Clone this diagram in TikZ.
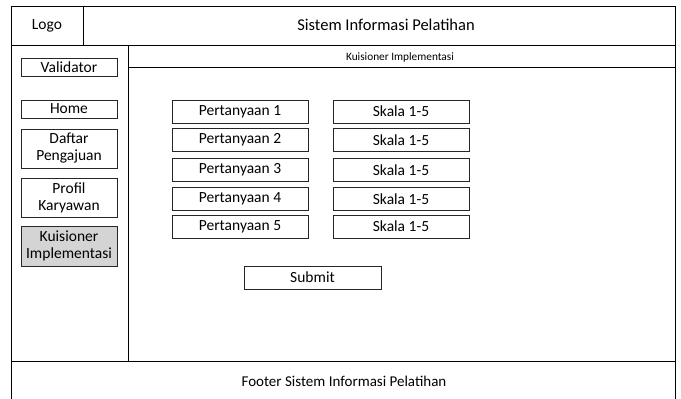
\documentclass[tikz,border=0pt]{standalone}
\usepackage{fontspec}
\setmainfont{Carlito}
\begin{document}
\begin{tikzpicture}[x=1pt,y=-1pt,
  frame/.style={draw=black, line width=0.9pt},
  btn/.style={draw=black!85, line width=0.8pt, fill=white, inner sep=0pt,
    align=center, font=\fontsize{15.5}{17}\selectfont},
  lbl/.style={inner sep=0pt, font=\fontsize{15.5}{17}\selectfont}]
\useasboundingbox (0,0) rectangle (681,399);
% outer frame, header, sidebar, footer
\draw[frame] (11,403) -- (11,6) -- (675,6) -- (675,403);
\draw[frame] (11,45) -- (675,45);
\draw[frame] (83,6) -- (83,45);
\draw[frame] (128,45) -- (128,361);
\draw[frame] (128,67) -- (675,67);
\draw[frame] (11,361) -- (675,361);
\node[lbl] (logo) at (47,26) {Logo};
\node[lbl, font=\fontsize{16.5}{18}\selectfont] (title) at (386,25) {Sistem Informasi Pelatihan};
\node[lbl, font=\fontsize{11.3}{13}\selectfont] (page) at (400,57) {Kuisioner Implementasi};
\node[lbl, font=\fontsize{15}{17}\selectfont] (footer) at (344,381) {Footer Sistem Informasi Pelatihan};
% sidebar menu
\node[btn, minimum width=96pt, minimum height=18pt] (validator) at (69,67.5) {Validator};
\node[btn, minimum width=96pt, minimum height=18pt] (home) at (69,109) {Home};
\node[btn, minimum width=96pt, minimum height=39pt] (daftar) at (69,148.5) {Daftar\\Pengajuan};
\node[btn, minimum width=96pt, minimum height=39pt] (profil) at (69,197.5) {Profil\\Karyawan};
\node[btn, fill=black!17, minimum width=96pt, minimum height=40pt] (kuis) at (69,246) {Kuisioner\\Implementasi};
% questionnaire rows
\foreach \i/\y in {1/111.5, 2/140, 3/170, 4/199, 5/226.5} {
  \node[btn, minimum width=136pt, minimum height=23pt] (q\i) at (240,\y) {Pertanyaan \i};
  \node[btn, minimum width=136pt, minimum height=23pt] (s\i) at (401,\y) {Skala 1-5};
}
\node[btn, minimum width=137pt, minimum height=23pt] (submit) at (312.5,277.5) {Submit};
\end{tikzpicture}
\end{document}
